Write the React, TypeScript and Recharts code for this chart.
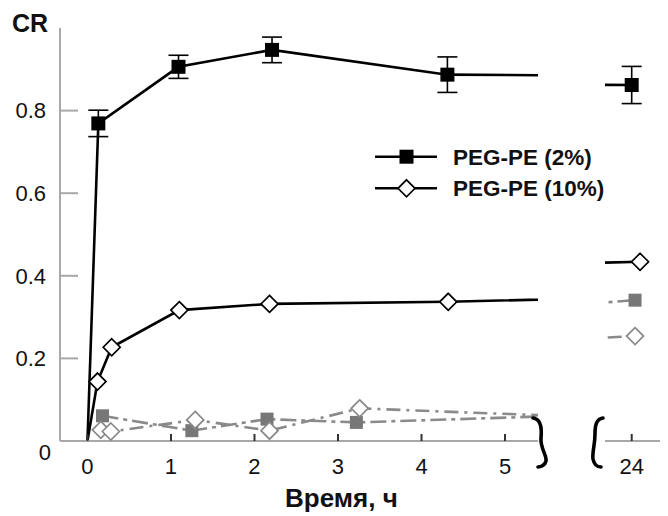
import { LineChart, Line, XAxis, YAxis, ErrorBar } from "recharts";

// PEG-PE (2%): time, h / CR / error
const hours2 = [0, 0.13, 1.09, 2.21, 4.31, 24];
const cr2 = [0, 0.769, 0.906, 0.947, 0.887, 0.862];
const err2 = [0, 0.032, 0.028, 0.031, 0.043, 0.045];

// PEG-PE (10%)
const hours10 = [0, 0.12, 0.29, 1.1, 2.18, 4.32, 24.1];
const cr10 = [0, 0.144, 0.227, 0.317, 0.332, 0.337, 0.434];

// grey series (squares, diamonds)
const hoursSq = [0.18, 1.25, 2.15, 3.22, 6, 24.04];
const crSq = [0.061, 0.025, 0.053, 0.045, 0.063, 0.341];
const hoursDm = [0.16, 0.28, 1.29, 2.18, 3.26, 6, 24.04];
const crDm = [0.027, 0.023, 0.051, 0.025, 0.079, 0.058, 0.254];

const xTicksLeft = [0, 1, 2, 3, 4, 5];
const xTicksRight = [24];
const yTicks = [0, 0.2, 0.4, 0.6, 0.8];
const yMinorTicks = [
  0, 0.04, 0.08, 0.12, 0.16, 0.2, 0.24, 0.28, 0.32, 0.36, 0.4, 0.44, 0.48,
  0.52, 0.56, 0.6, 0.64, 0.68, 0.72, 0.76, 0.8, 0.84, 0.88, 0.92, 0.96, 1,
];
const legendNames = ["PEG-PE (2%)", "PEG-PE (10%)"];

const FONT = "'Liberation Sans', Arial, Helvetica, sans-serif";
const GREY = "#8a8a8a";
const AXIS = "#a8a8a8";

const rows = (t: number[], v: number[], e?: number[]) =>
  t.map((h, i) => ({ t: h, cr: v[i], err: e ? e[i] : undefined }));

const square = (cx: number, cy: number, fill: string, size: number, key?: any) => (
  <rect key={key} x={cx - size / 2} y={cy - size / 2} width={size} height={size} fill={fill} />
);

const diamond = (cx: number, cy: number, stroke: string, r: number, key?: any) => (
  <path
    key={key}
    d={`M${cx},${cy - r} L${cx + r},${cy} L${cx},${cy + r} L${cx - r},${cy} Z`}
    fill="#fff"
    stroke={stroke}
    strokeWidth={1.7}
  />
);

// no marker at the origin
const dotOf = (draw: (cx: number, cy: number, key: any) => any) => (p: any) =>
  p.payload.t === 0 ? <g key={`o-${p.index}`} /> : draw(p.cx, p.cy, `d-${p.index}`);

const series = [
  {
    id: "sq",
    data: rows(hoursSq, crSq),
    stroke: GREY,
    dash: "16 5 4 5",
    dot: dotOf((x, y, k) => square(x, y, "#777", 13, k)),
  },
  {
    id: "dm",
    data: rows(hoursDm, crDm),
    stroke: GREY,
    dash: "14 6 3 6",
    dot: dotOf((x, y, k) => diamond(x, y, "#888", 8.5, k)),
  },
  {
    id: "p10",
    data: rows(hours10, cr10),
    stroke: "#000",
    dash: undefined,
    dot: dotOf((x, y, k) => diamond(x, y, "#000", 8.5, k)),
  },
  {
    id: "p2",
    data: rows(hours2, cr2, err2),
    stroke: "#000",
    dash: undefined,
    dot: dotOf((x, y, k) => square(x, y, "#000", 14, k)),
  },
];

const renderLines = () =>
  series.map((s) => (
    <Line
      key={s.id}
      data={s.data}
      dataKey="cr"
      type="linear"
      stroke={s.stroke}
      strokeWidth={2.6}
      strokeDasharray={s.dash}
      dot={s.dot}
      activeDot={false}
      isAnimationActive={false}
      legendType="none"
    >
      {s.id === "p2" && (
        <ErrorBar dataKey="err" direction="y" width={10} stroke="#000" strokeWidth={1.6} />
      )}
    </Line>
  ));

const YTick = (props: any) => {
  const { x, y, payload } = props;
  const zero = payload.value === 0;
  return (
    <text
      x={x + (zero ? 5 : 0)}
      y={y + (zero ? 11 : 0)}
      dy="0.355em"
      textAnchor="end"
      fontSize={22}
      fill="#111"
      fontFamily={FONT}
    >
      {zero ? "0" : payload.value.toFixed(1)}
    </text>
  );
};

const NoLabel = () => <g />;

const xAxisProps = {
  dataKey: "t",
  type: "number" as const,
  allowDataOverflow: true,
  interval: 0 as const,
  height: 75,
  tickSize: -7,
  tickMargin: 24,
  tickLine: { stroke: "#333", strokeWidth: 2 },
  axisLine: { stroke: AXIS, strokeWidth: 2 },
  tick: { fill: "#111", fontSize: 22, fontFamily: FONT },
};

export default function App() {
  return (
    <div style={{ position: "relative", width: 660, height: 508, fontFamily: FONT }}>
      {/* 0–5 h segment */}
      <div style={{ position: "absolute", left: 0, top: 0 }}>
        <LineChart width={530} height={508} margin={{ top: 20, right: 0, left: 0, bottom: 0 }}>
          <XAxis {...xAxisProps} domain={[-0.329, 5.395]} ticks={xTicksLeft} />
          <YAxis
            type="number"
            domain={[0, 1]}
            ticks={yTicks}
            interval={0}
            width={52}
            tickSize={-18}
            tickMargin={32}
            axisLine={{ stroke: AXIS, strokeWidth: 2 }}
            tickLine={{ stroke: AXIS, strokeWidth: 2 }}
            tick={YTick}
          />
          <YAxis
            yAxisId="minor"
            type="number"
            mirror
            domain={[0, 1]}
            ticks={yMinorTicks}
            interval={0}
            width={0}
            tickSize={8}
            axisLine={false}
            tickLine={{ stroke: AXIS, strokeWidth: 2 }}
            tick={NoLabel}
          />
          {renderLines()}
        </LineChart>
      </div>

      {/* 24 h segment */}
      <div style={{ position: "absolute", left: 582, top: 0 }}>
        <LineChart width={78} height={508} margin={{ top: 20, right: 0, left: 15, bottom: 0 }}>
          <XAxis {...xAxisProps} domain={[23.68, 24.435]} ticks={xTicksRight} />
          <YAxis
            type="number"
            orientation="right"
            mirror
            domain={[0, 1]}
            ticks={[0.2, 0.4, 0.6, 0.8]}
            interval={0}
            width={0}
            tickSize={8}
            axisLine={false}
            tickLine={{ stroke: AXIS, strokeWidth: 2 }}
            tick={NoLabel}
          />
          {renderLines()}
        </LineChart>
      </div>

      <svg
        width={660}
        height={508}
        style={{ position: "absolute", left: 0, top: 0, pointerEvents: "none" }}
      >
        <text x={4} y={24} fontSize={25} fontWeight="bold" fill="#111" fontFamily={FONT}>
          CR
        </text>
        <text x={277} y={499} fontSize={26} fontWeight="bold" fill="#111" fontFamily={FONT}>
          Время, ч
        </text>

        {/* axis break marks */}
        <path
          d="M525,410 C533,411 534,420 533,430 C532,440 539,447 538,453 C537,457 533,459 530,459"
          fill="none"
          stroke="#000"
          strokeWidth={3.6}
          strokeLinecap="round"
        />
        <path
          d="M595,410 C588,411 587,418 587,426 C587,437 584,444 585,451 C586,456 589,459 593,459"
          fill="none"
          stroke="#000"
          strokeWidth={3.6}
          strokeLinecap="round"
        />

        {/* legend */}
        {legendNames.map((name, i) => {
          const cy = 148.7 + i * 31.6;
          return (
            <g key={name}>
              <line x1={367} x2={429} y1={cy} y2={cy} stroke="#000" strokeWidth={2.6} />
              {i === 0 ? square(398.5, cy, "#000", 14) : diamond(398.5, cy, "#000", 8.5)}
              <text
                x={445}
                y={cy + 8.1}
                fontSize={22.5}
                fontWeight="bold"
                fill="#111"
                fontFamily={FONT}
              >
                {name}
              </text>
            </g>
          );
        })}
      </svg>
    </div>
  );
}
